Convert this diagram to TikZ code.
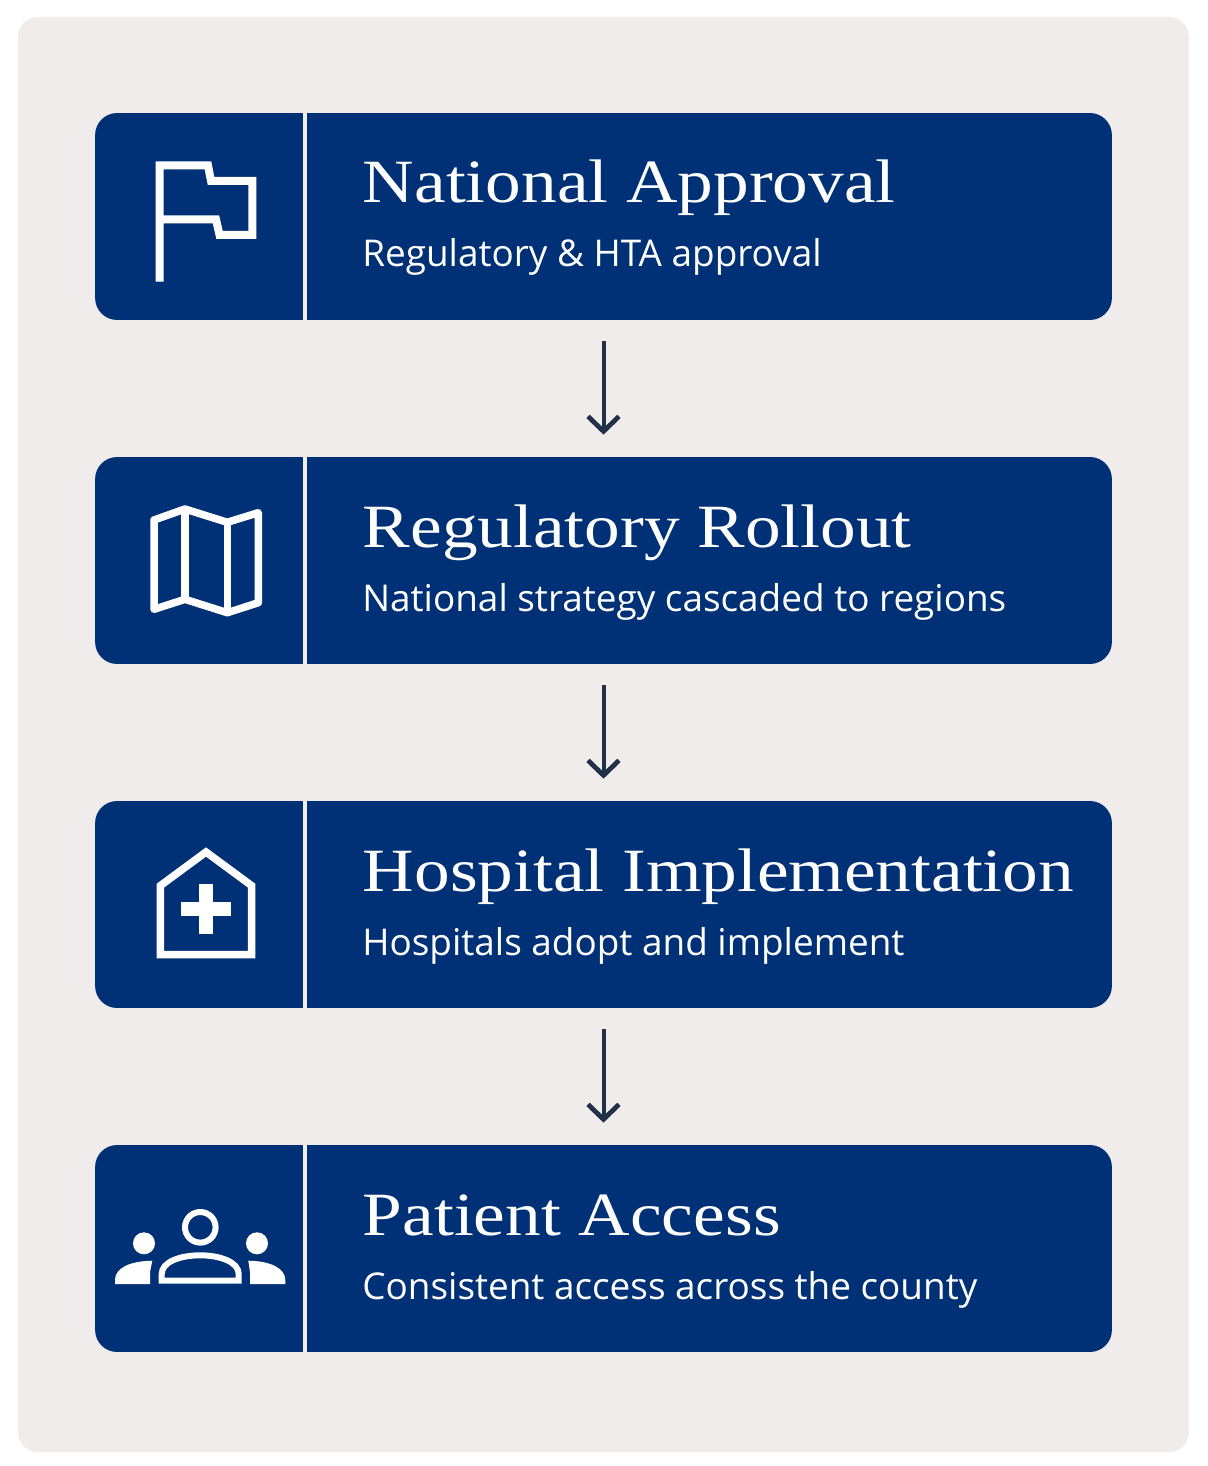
\documentclass[tikz,border=0pt]{standalone}
\usepackage{fontspec}
\setmainfont{Open Sans}
\newfontfamily\titlefont[FakeStretch=1.16]{Liberation Serif}
\usetikzlibrary{arrows.meta}
\definecolor{panelgray}{HTML}{F0ECEC}
\definecolor{barnavy}{HTML}{003075}
\definecolor{arrowdark}{HTML}{23304A}
\tikzset{
  stepbar/.style={fill=barnavy, rounded corners=0.44cm, minimum width=20.34cm, minimum height=4.14cm, inner sep=0pt},
  steptitle/.style={anchor=base west, text=white, font=\titlefont\fontsize{35}{35}\selectfont, inner sep=0pt},
  stepsub/.style={anchor=base west, text=white, font=\fontsize{21}{21}\selectfont, inner sep=0pt},
  flowarrow/.style={draw=arrowdark, line width=0.08cm, shorten <=0.42cm, shorten >=0.44cm, -{Straight Barb[length=0.3cm, width=0.62cm, line width=0.095cm]}},
  iconline/.style={draw=white, line width=0.15cm},
}
\begin{document}
\begin{tikzpicture}[x=0.02cm, y=-0.02cm]
    \useasboundingbox (0,0) rectangle (1207,1466);
    \fill[white] (0,0) rectangle (1207,1466);
    % Panel
    \fill[panelgray, rounded corners=0.4cm] (18,17) rectangle (1189,1452);

    % Bars with divider
    \foreach \n/\y in {1/216.5, 2/560.5, 3/904.5, 4/1248.5} {
        \node[stepbar] (bar\n) at (603.5,\y) {};
        \fill[panelgray] (303,\y-103.5) rectangle (307,\y+103.5);
    }

    % Arrows
    \foreach \a/\b in {1/2, 2/3, 3/4} {
        \draw[flowarrow] (bar\a) -- (bar\b);
    }

    % Texts
    \node[steptitle] (title1) at (362.5,203) {National Approval};
    \node[stepsub] (sub1) at (362,267) {Regulatory \& HTA approval};
    \node[steptitle] (title2) at (362.5,547) {Regulatory Rollout};
    \node[stepsub] (sub2) at (362,611) {National strategy cascaded to regions};
    \node[steptitle] (title3) at (362.5,891) {Hospital Implementation};
    \node[stepsub] (sub3) at (362,955) {Hospitals adopt and implement};
    \node[steptitle] (title4) at (362.5,1235) {Patient Access};
    \node[stepsub] (sub4) at (362,1299) {Consistent access across the county};

    % Flag icon
    \draw[iconline, line width=0.16cm] (159.7,281.7) -- (159.7,165.5) -- (208,165.5) -- (211,180.8) -- (252.3,180.8)
        -- (252.3,234.8) -- (219.5,234.8) -- (216,219.5) -- (159.7,219.5);

    % Map icon
    \draw[iconline, line join=round] (154,520) -- (185,509) -- (227.3,522.3) -- (258.3,512.7) -- (258.3,602.7)
        -- (227.3,612.7) -- (185,599.3) -- (154,609.3) -- cycle;
    \draw[iconline] (185,509) -- (185,599.3);
    \draw[iconline] (227.3,522.3) -- (227.3,612.7);

    % Hospital icon
    \draw[iconline] (160.3,954.7) -- (160.3,885.7) -- (206,852) -- (251.7,885.7) -- (251.7,954.7) -- cycle;
    \fill[white] (199,884) rectangle (213.3,933.7);
    \fill[white] (181.3,901.7) rectangle (230.7,916);

    % People icon
    \draw[iconline, line width=0.12cm] (200.3,1227.3) circle (15.3);
    \fill[white] (144,1243.3) circle (11);
    \fill[white] (257,1243.3) circle (11);
    \fill[white] (115,1284) -- (150,1284) -- (150,1272) -- (152.3,1260.7) .. controls (130,1261) and (115,1268) .. (115,1280) -- cycle;
    \fill[white] (285.3,1284) -- (250,1284) -- (250,1272) -- (248.3,1260.7) .. controls (270,1261) and (285.3,1268) .. (285.3,1280) -- cycle;
    \draw[iconline, line width=0.12cm] (161.7,1280.7) -- (161.7,1274) .. controls (161.7,1262) and (180,1255.3) .. (200.2,1255.3)
        .. controls (220,1255.3) and (238.7,1262) .. (238.7,1274) -- (238.7,1280.7) -- cycle;
\end{tikzpicture}
\end{document}
